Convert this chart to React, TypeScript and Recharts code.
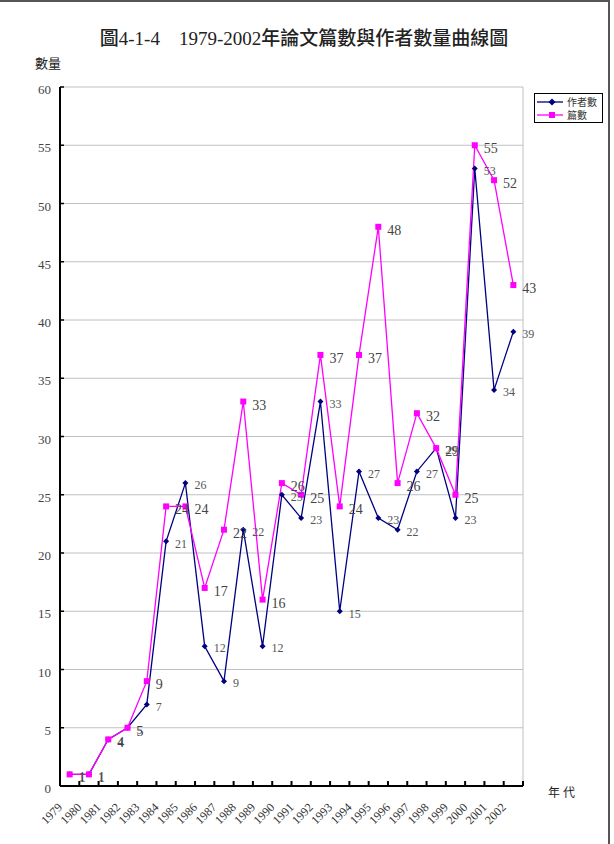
import {
  CartesianGrid,
  LabelList,
  Legend,
  Line,
  LineChart,
  XAxis,
  YAxis,
} from "recharts";

const years = [
  "1979", "1980", "1981", "1982", "1983", "1984", "1985", "1986",
  "1987", "1988", "1989", "1990", "1991", "1992", "1993", "1994",
  "1995", "1996", "1997", "1998", "1999", "2000", "2001", "2002",
];
const authorCounts = [1, 1, 4, 5, 7, 21, 26, 12, 9, 22, 12, 25, 23, 33, 15, 27, 23, 22, 27, 29, 23, 53, 34, 39];
const paperCounts = [1, 1, 4, 5, 9, 24, 24, 17, 22, 33, 16, 26, 25, 37, 24, 37, 48, 26, 32, 29, 25, 55, 52, 43];
const yTicks = [0, 5, 10, 15, 20, 25, 30, 35, 40, 45, 50, 55, 60];

const data = years.map((year, i) => ({
  year,
  authors: authorCounts[i],
  papers: paperCounts[i],
}));

const W = 614;
const H = 844;
const PLOT = { top: 87, right: 91, bottom: 58, left: 60 };
const Y_AXIS_W = 40;
const X_AXIS_H = 50;
const band = (W - PLOT.left - PLOT.right) / years.length;

const NAVY = "#000080";
const MAGENTA = "#ff00ff";
const SERIF = "'Liberation Serif', 'Noto Sans CJK TC', serif";

function Diamond({ cx, cy, r = 4, color = NAVY }: any) {
  if (cx == null || cy == null) return null;
  return (
    <polygon
      points={`${cx},${cy - r} ${cx + r},${cy} ${cx},${cy + r} ${cx - r},${cy}`}
      fill={color}
    />
  );
}

function Square({ cx, cy, r = 3.2, color = MAGENTA }: any) {
  if (cx == null || cy == null) return null;
  return <rect x={cx - r} y={cy - r} width={r * 2} height={r * 2} fill={color} />;
}

function XTick({ x, y, payload, index }: any) {
  const left = x - band / 2;
  return (
    <g>
      <line x1={left} y1={y} x2={left} y2={y - 5} stroke="#000" strokeWidth={2} />
      {index === years.length - 1 && (
        <line x1={x + band / 2} y1={y} x2={x + band / 2} y2={y - 5} stroke="#000" strokeWidth={2} />
      )}
      <text
        x={left + 3}
        y={y + 22}
        transform={`rotate(-45 ${left + 3} ${y + 22})`}
        textAnchor="end"
        fontSize={12}
        fill="#333"
        fontFamily={SERIF}
      >
        {payload.value}
      </text>
    </g>
  );
}

function YTick({ x, y, payload }: any) {
  return (
    <g>
      <line x1={x} y1={y} x2={x + 4} y2={y} stroke="#000" strokeWidth={1.5} />
      <text x={x - 9} y={y + 7} textAnchor="end" fontSize={13} fill="#444" fontFamily={SERIF}>
        {payload.value}
      </text>
    </g>
  );
}

function LegendBox({ payload }: any) {
  return (
    <div
      style={{
        border: "1px solid #000",
        width: 69,
        height: 30,
        background: "#fff",
        boxSizing: "border-box",
        paddingTop: 1,
      }}
    >
      {(payload || []).map((item: any) => (
        <div key={item.value} style={{ display: "flex", alignItems: "center", height: 13 }}>
          <svg width={30} height={10} style={{ marginLeft: 2 }}>
            <line x1={0} y1={5} x2={26} y2={5} stroke={item.color} strokeWidth={1.3} />
            {item.color === NAVY ? (
              <Diamond cx={15} cy={5} r={3.5} />
            ) : (
              <Square cx={15} cy={5} r={3} />
            )}
          </svg>
          <span style={{ fontSize: 10, color: "#333", fontFamily: SERIF, whiteSpace: "nowrap" }}>
            {item.value}
          </span>
        </div>
      ))}
    </div>
  );
}

export default function App() {
  return (
    <div
      style={{
        position: "absolute",
        left: 0,
        top: 0,
        width: W,
        height: H,
        background: "#fff",
        fontFamily: SERIF,
      }}
    >
      <div style={{ position: "absolute", left: 0, top: 0, width: 610, height: 2, background: "#555" }} />
      <div style={{ position: "absolute", left: 608, top: 0, width: 2, height: H, background: "#555" }} />
      <div
        style={{
          position: "absolute",
          left: 0,
          top: 23,
          width: 608,
          textAlign: "center",
          fontSize: 19,
          fontWeight: 500,
          color: "#222",
          whiteSpace: "nowrap",
        }}
      >
        圖4-1-4　1979-2002年論文篇數與作者數量曲線圖
      </div>
      <div style={{ position: "absolute", left: 35, top: 53, fontSize: 13, color: "#222" }}>數量</div>
      <div
        style={{ position: "absolute", left: 548, top: 783, fontSize: 12, color: "#222", letterSpacing: 3 }}
      >
        年代
      </div>
      <LineChart
        width={W}
        height={H}
        data={data}
        margin={{
          top: PLOT.top,
          right: PLOT.right,
          bottom: PLOT.bottom - X_AXIS_H,
          left: PLOT.left - Y_AXIS_W,
        }}
        style={{ position: "absolute", left: 0, top: 0 }}
      >
        <CartesianGrid
          stroke="#c0c0c0"
          strokeWidth={1}
          verticalCoordinatesGenerator={({ offset }: any) => [offset.left + offset.width]}
        />
        <XAxis
          dataKey="year"
          scale="band"
          height={X_AXIS_H}
          interval={0}
          tickSize={0}
          tickMargin={0}
          tickLine={false}
          axisLine={{ stroke: "#000", strokeWidth: 2 }}
          tick={<XTick />}
        />
        <YAxis
          width={Y_AXIS_W}
          domain={[0, 60]}
          ticks={yTicks}
          interval={0}
          tickSize={0}
          tickMargin={0}
          tickLine={false}
          axisLine={{ stroke: "#000", strokeWidth: 2 }}
          tick={<YTick />}
        />
        <Legend
          verticalAlign="middle"
          align="center"
          layout="vertical"
          content={<LegendBox />}
          wrapperStyle={{ top: 93, left: 534, width: 69, height: 30 }}
        />
        <Line
          dataKey="authors"
          name="作者數"
          stroke={NAVY}
          strokeWidth={1.3}
          dot={<Diamond />}
          activeDot={false}
          isAnimationActive={false}
        >
          <LabelList
            dataKey="authors"
            position="right"
            offset={9}
            fontSize={12}
            fill="#555"
            fontFamily={SERIF}
            dy={2}
          />
        </Line>
        <Line
          dataKey="papers"
          name="篇數"
          stroke={MAGENTA}
          strokeWidth={1.3}
          dot={<Square />}
          activeDot={false}
          isAnimationActive={false}
        >
          <LabelList
            dataKey="papers"
            position="right"
            offset={9}
            fontSize={14}
            fill="#444"
            fontFamily={SERIF}
            dy={3}
          />
        </Line>
      </LineChart>
    </div>
  );
}
